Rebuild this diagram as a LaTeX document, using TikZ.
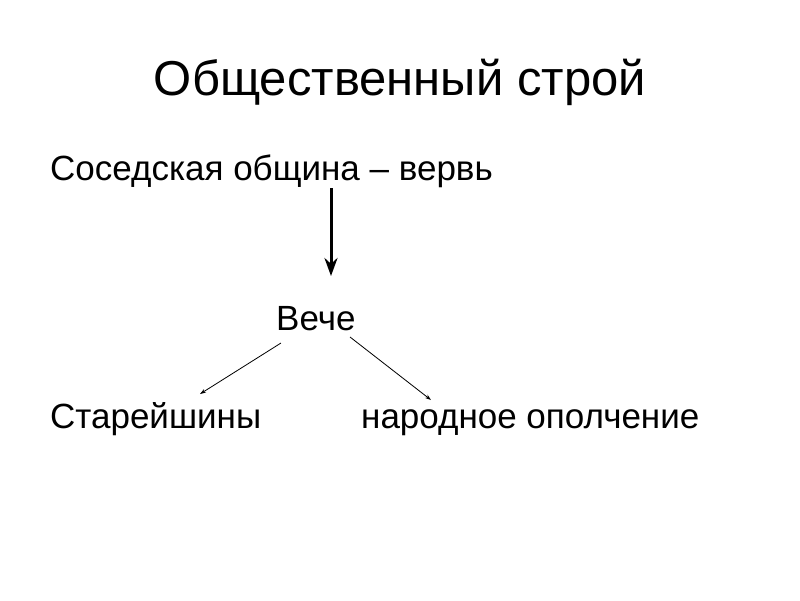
\documentclass[tikz,border=0pt]{standalone}
\usepackage{fontspec}
\setmainfont{Liberation Sans}
\usetikzlibrary{arrows.meta}

\begin{document}
\begin{tikzpicture}[x=1pt,y=-1pt]
  \useasboundingbox[fill=white] (0,0) rectangle (800,600);
  \node[anchor=base] (title) at (400,95) {\fontsize{49}{56}\selectfont Общественный строй};
  \node[anchor=base west,inner sep=0pt] (obshchina) at (50,180) {\fontsize{35}{42}\selectfont Соседская община – вервь};
  \node[anchor=base west,inner sep=0pt] (veche) at (276,330) {\fontsize{35}{42}\selectfont Вече};
  \node[anchor=base west,inner sep=0pt] (stareyshiny) at (50,428) {\fontsize{35}{42}\selectfont Старейшины};
  \node[anchor=base west,inner sep=0pt] (opolchenie) at (361,428) {\fontsize{35}{42}\selectfont народное ополчение};
  \coordinate (a1) at (331,188);
  \coordinate (a2) at (331,276);
  \coordinate (l1) at (281,343);
  \coordinate (l2) at (200,394);
  \coordinate (r1) at (350,337);
  \coordinate (r2) at (431,400);
  \draw[line width=3pt,-{Stealth[length=18pt,width=13pt]}] (a1) -- (a2);
  \draw[line width=0.8pt,-{Stealth[length=6pt,width=4pt]}] (l1) -- (l2);
  \draw[line width=0.8pt,-{Stealth[length=6pt,width=4pt]}] (r1) -- (r2);
\end{tikzpicture}
\end{document}
